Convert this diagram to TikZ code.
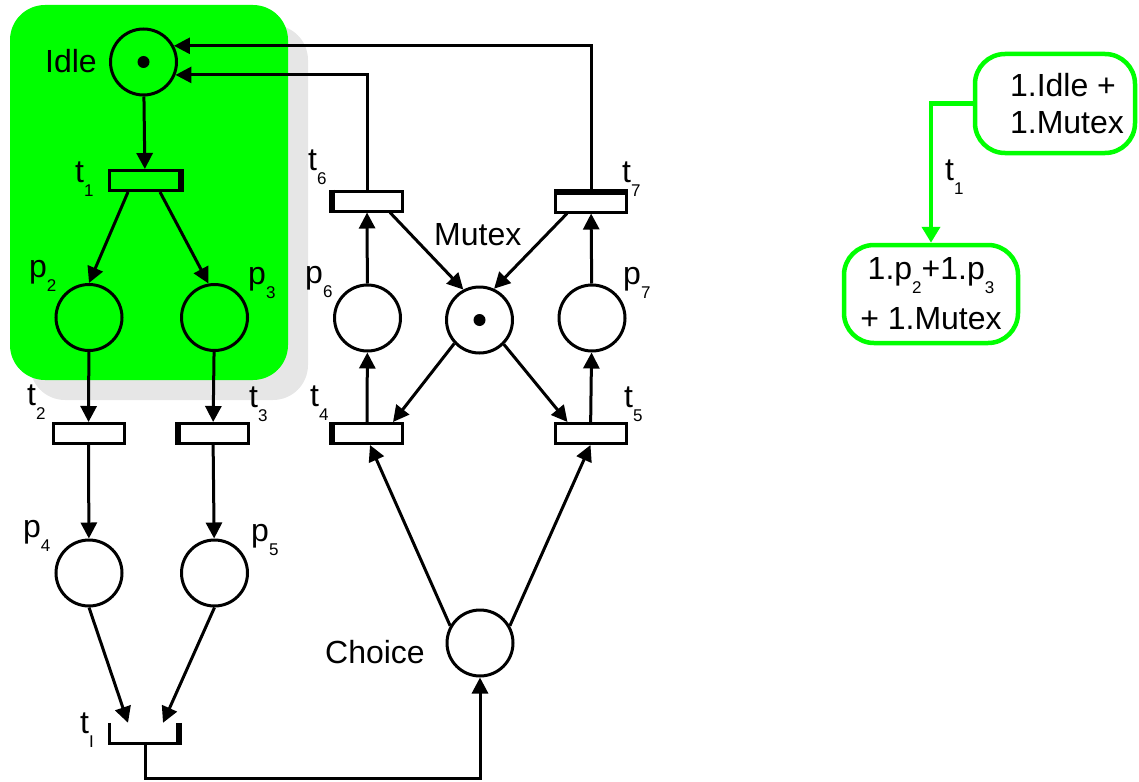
\documentclass[tikz,border=0pt]{standalone}
\usepackage{fontspec}
\setmainfont{Liberation Sans}
\usetikzlibrary{arrows.meta,positioning,calc}
\definecolor{Gr}{HTML}{00FF00}
\definecolor{shadowgray}{HTML}{E6E6E6}
\newcommand{\sub}[1]{\raisebox{-14pt}{\fontsize{17}{17}\selectfont #1}}
\tikzset{
  place/.style={circle, draw=black, line width=3pt, minimum size=66pt, inner sep=0pt},
  trans/.style={rectangle, draw=black, line width=3pt, minimum width=71pt, minimum height=20pt, inner sep=0pt},
  gate/.style={rectangle, minimum width=71pt, minimum height=20pt, inner sep=0pt},
  tok/.style={circle, fill=black, inner sep=0pt, minimum size=12pt},
  arc/.style={-{Triangle[length=16pt,width=16pt]}, line width=3pt},
  garc/.style={-{Triangle[length=16pt,width=18pt]}, line width=4.5pt, draw=Gr},
  lbl/.style={anchor=base west, inner sep=0pt},
  state/.style={rectangle, rounded corners=30pt, draw=Gr, line width=4.5pt, inner sep=0pt},
  heavy/.style={line width=6pt},
}

\begin{document}
\begin{tikzpicture}[x=1pt, y=-1pt, font=\fontsize{32}{36}\selectfont]
  \useasboundingbox (0,0) rectangle (1139,781);
  % highlighted region
  \fill[shadowgray, rounded corners=35pt] (30,25) rectangle (308,400);
  \fill[Gr, rounded corners=35pt] (10,5) rectangle (288,380);

  % places
  \node[place] (idle) at (143.5,62) {};
  \node[tok] (idletok) at (idle.center) {};
  \node[place] (p2) at (89,317.5) {};
  \node[place] (p3) at (214.5,317.5) {};
  \node[place] (p4) at (89,573) {};
  \node[place] (p5) at (214.5,573) {};
  \node[place] (p6) at (367.5,318) {};
  \node[place] (mutex) at (479.5,320) {};
  \node[tok] (mutextok) at (mutex.center) {};
  \node[place] (p7) at (592,318) {};
  \node[place] (choice) at (480,643) {};

  % transitions
  \node[trans] (t1) at (145,180.5) {};
  \node[trans] (t2) at (88.5,433.5) {};
  \node[trans] (t3) at (213,433.5) {};
  \node[trans] (t4) at (367,433.5) {};
  \node[trans] (t5) at (590.5,433.5) {};
  \node[trans] (t6) at (367,201) {};
  \node[trans] (t7) at (591,202) {};
  \node[gate] (tI) at (145,733) {};
  \draw[line width=3pt] (tI.north west) |- (tI.south east) -- (tI.north east);
  \foreach \t/\a/\b/\dx/\dy in {t1/north east/south east/-1.5/0, t3/north west/south west/1.5/0,
      t4/north west/south west/1.5/0, t6/north west/south west/1.5/0,
      t7/north west/north east/0/-1.5, tI/north east/south east/-1.5/0}
    \draw[heavy] ([xshift=\dx pt, yshift=\dy pt]\t.\a) -- ([xshift=\dx pt, yshift=\dy pt]\t.\b);

  % labels
  \node[lbl] (lidle) at (45,73) {Idle};
  \node[lbl] (lt1) at (75,182) {t\sub{1}};
  \node[lbl] (lp2) at (29,277) {p\sub{2}};
  \node[lbl] (lp3) at (248,284) {p\sub{3}};
  \node[lbl] (lt2) at (27,405) {t\sub{2}};
  \node[lbl] (lt3) at (249,407) {t\sub{3}};
  \node[lbl] (lp4) at (23,537) {p\sub{4}};
  \node[lbl] (lp5) at (251,541) {p\sub{5}};
  \node[lbl] (ltI) at (80,733) {t\sub{I}};
  \node[lbl] (lt6) at (308,170) {t\sub{6}};
  \node[lbl] (lt7) at (622,182) {t\sub{7}};
  \node[lbl] (lp6) at (305,283) {p\sub{6}};
  \node[lbl] (lp7) at (623,284) {p\sub{7}};
  \node[lbl] (lt4) at (310,406) {t\sub{4}};
  \node[lbl] (lt5) at (624,407) {t\sub{5}};
  \node[lbl] (lmutex) at (434,245) {Mutex};
  \node[lbl] (lchoice) at (325,663) {Choice};

  % arcs
  \draw[arc] (idle) -- (t1);
  \draw[arc] ([xshift=-17pt]t1.south) -- (p2.north);
  \draw[arc] ([xshift=15pt]t1.south) -- (p3.100);
  \draw[arc] (p2) -- (t2);
  \draw[arc] (p3) -- (t3);
  \draw[arc] (t2) -- (p4);
  \draw[arc] (t3) -- (p5);
  \draw[arc] (p4.south) -- ([xshift=-17pt]tI.north);
  \draw[arc] (p5.south) -- ([xshift=18pt]tI.north);
  \draw[arc] (tI.south) -- ++(0,35) -| (choice.south);
  \draw[arc] (choice.150) -- ([xshift=3pt]t4.south);
  \draw[arc] (choice.30) -- (t5.south);
  \draw[arc] (t4) -- (p6);
  \draw[arc] (p6) -- (t6);
  \draw[arc] (t5) -- (p7);
  \draw[arc] (p7) -- (t7);
  \draw[arc] ([xshift=23pt]t6.south) -- (mutex.118);
  \draw[arc] ([xshift=-24pt]t7.south) -- (mutex.65);
  \draw[arc] (mutex.-137) -- ([xshift=26pt]t4.north);
  \draw[arc] (mutex.-45) -- ([xshift=-23pt]t5.north);
  \draw[arc] (t6.north) |- (idle.-22);
  \draw[arc] (t7.north) |- (idle.28);

  % reachability graph
  \node[state, minimum width=160pt, minimum height=99pt, align=left,
    font=\fontsize{32}{37}\selectfont] (s0) at (1055,103.5)
    {\hspace*{24pt}1.Idle +\\\hspace*{24pt}1.Mutex};
  \node[state, minimum width=174pt, minimum height=98pt, align=center,
    font=\fontsize{32}{50}\selectfont] (s1) at (931,294)
    {1.p\sub{2}+1.p\sub{3}\\+ 1.Mutex};
  \draw[garc] (s0.west) -| (s1.north);
  \node[lbl] (lt1r) at (945,180) {t\sub{1}};
\end{tikzpicture}
\end{document}
